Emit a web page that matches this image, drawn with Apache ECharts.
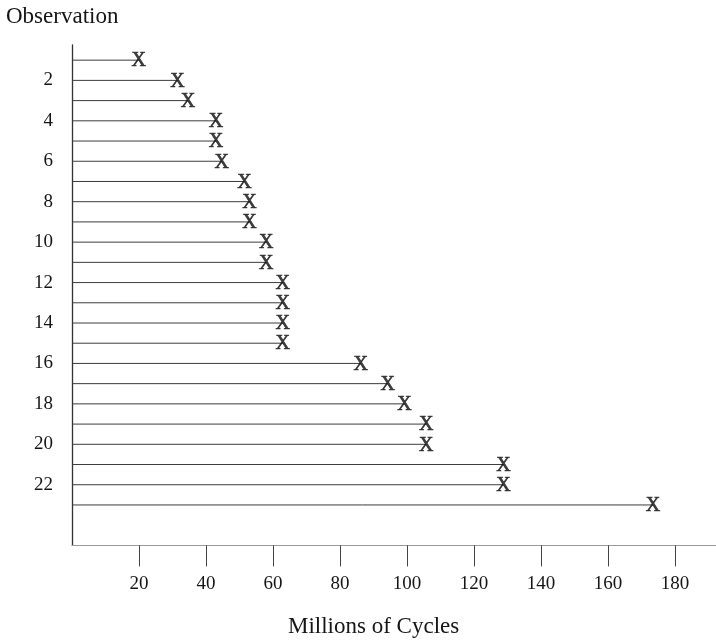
<!DOCTYPE html>
<html>
<head>
<meta charset="utf-8">
<script src="https://cdn.jsdelivr.net/npm/echarts@6/dist/echarts.min.js"></script>
<style>
  html, body { margin: 0; padding: 0; background: #fff; }
  #chart { width: 716px; height: 641px; }
</style>
</head>
<body>
<div id="chart"></div>
<script>
// Observation numbers (rows, top to bottom)
const observations = [1, 2, 3, 4, 5, 6, 7, 8, 9, 10, 11, 12, 13, 14, 15, 16, 17, 18, 19, 20, 21, 22, 23];
// Failure time of each observation, millions of cycles
const cycles = [19.9, 31.5, 34.6, 43.0, 43.0, 44.7, 51.5, 53.0, 53.0, 58.0, 58.0, 62.9, 62.9, 62.9, 62.9,
                86.2, 94.2, 99.2, 105.7, 105.7, 128.8, 128.8, 173.4];
// Axis tick labels
const xTickValues = [20, 40, 60, 80, 100, 120, 140, 160, 180];
const yTickValues = [2, 4, 6, 8, 10, 12, 14, 16, 18, 20, 22];

const points = observations.map((obs, i) => [cycles[i], obs]);

const serif = 'Liberation Serif';
const ink = '#151515';

const chart = echarts.init(document.getElementById('chart'), null, { renderer: 'canvas' });

chart.setOption({
  backgroundColor: '#ffffff',
  animation: false,
  title: [
    {
      text: 'Observation',
      left: 6, top: 5, padding: 0,
      textStyle: { fontFamily: serif, fontWeight: 'normal', fontSize: 23, color: ink }
    },
    {
      text: 'Millions of Cycles',
      left: 288, top: 615, padding: 0,
      textStyle: { fontFamily: serif, fontWeight: 'normal', fontSize: 23, color: ink }
    }
  ],
  grid: { left: 72, right: 0, top: 45, height: 500.4, containLabel: false },
  xAxis: {
    type: 'value',
    min: 0,
    max: 192.2,
    axisLine: { show: true, lineStyle: { color: '#9a9a9a', width: 1.2 } },
    axisTick: {
      show: true, inside: false, length: 21,
      customValues: xTickValues,
      lineStyle: { color: '#444', width: 1 }
    },
    axisLabel: {
      customValues: xTickValues,
      margin: 29,
      fontFamily: serif, fontSize: 19, color: ink
    },
    splitLine: { show: false }
  },
  yAxis: {
    type: 'value',
    inverse: true,
    min: 0.25,
    max: 25,
    axisLine: { show: true, lineStyle: { color: '#333', width: 1.3 } },
    axisTick: { show: false },
    axisLabel: {
      customValues: yTickValues,
      margin: 19,
      fontFamily: serif, fontSize: 19, color: ink
    },
    splitLine: { show: false }
  },
  series: [
    {
      // horizontal line from zero to each failure time
      type: 'custom',
      silent: true,
      data: points,
      renderItem(params, api) {
        const row = api.value(1);
        const start = api.coord([0, row]);
        const end = api.coord([api.value(0), row]);
        return {
          type: 'line',
          shape: { x1: start[0], y1: start[1], x2: end[0], y2: end[1] },
          style: { stroke: '#3c3c3c', lineWidth: 1 }
        };
      }
    },
    {
      // failure mark at the end of each line
      type: 'scatter',
      silent: true,
      data: points,
      symbolSize: 1,
      itemStyle: { color: 'rgba(0,0,0,0)' },
      label: {
        show: true,
        position: 'inside',
        offset: [0, 1],
        formatter: 'X',
        fontFamily: serif,
        fontSize: 20,
        color: '#111',
        textBorderColor: '#111',
        textBorderWidth: 0.7
      },
      z: 3
    }
  ]
});
</script>
</body>
</html>
